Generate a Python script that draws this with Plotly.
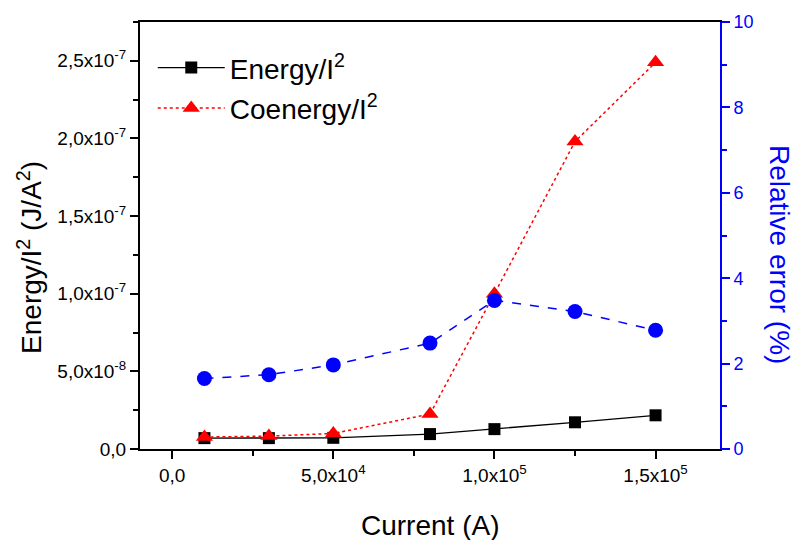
import plotly.graph_objects as go

current = [1e4, 3e4, 5e4, 8e4, 1e5, 1.25e5, 1.5e5]
energy = [7.0e-9, 7.0e-9, 7.2e-9, 9.6e-9, 1.28e-8, 1.72e-8, 2.17e-8]
coenergy = [7.7e-9, 8.3e-9, 1.0e-8, 2.25e-8, 1.0e-7, 1.98e-7, 2.49e-7]
rel_error = [1.65, 1.74, 1.97, 2.48, 3.48, 3.22, 2.78]

x_tickvals = [0, 5e4, 1e5, 1.5e5]
x_ticktext = ["0,0", "5,0x10<sup>4</sup>", "1,0x10<sup>5</sup>", "1,5x10<sup>5</sup>"]
y_tickvals = [0, 5e-8, 1e-7, 1.5e-7, 2e-7, 2.5e-7]
y_ticktext = ["0,0", "5,0x10<sup>-8</sup>", "1,0x10<sup>-7</sup>", "1,5x10<sup>-7</sup>",
              "2,0x10<sup>-7</sup>", "2,5x10<sup>-7</sup>"]
y2_tickvals = [0, 2, 4, 6, 8, 10]

FONT = "Liberation Sans, Arial, sans-serif"

fig = go.Figure()
fig.add_trace(go.Scatter(
    x=current, y=energy, name="Energy/I<sup>2</sup>", mode="lines+markers",
    line=dict(color="black", width=1.3),
    marker=dict(symbol="square", size=12, color="black"),
    legendgroup="a"))
fig.add_trace(go.Scatter(
    x=current, y=coenergy, name="Coenergy/I<sup>2</sup>", mode="lines+markers",
    line=dict(color="red", width=1.5, dash="dot"),
    marker=dict(symbol="triangle-up", size=15, color="red"),
    legendgroup="b"))
fig.add_trace(go.Scatter(
    x=current, y=rel_error, name="Relative error", mode="lines+markers",
    line=dict(color="blue", width=1.5, dash="dash"),
    marker=dict(symbol="circle", size=15, color="blue"),
    yaxis="y2", showlegend=False))

fig.update_layout(
    width=799, height=540,
    margin=dict(l=140, r=79, t=17, b=91),
    plot_bgcolor="white", paper_bgcolor="white",
    font=dict(family=FONT, size=19, color="black"),
    showlegend=True,
    legend=dict(x=0.022, y=0.951, xanchor="left", yanchor="top",
                bgcolor="rgba(0,0,0,0)", font=dict(size=28, family=FONT),
                itemwidth=67, tracegroupgap=1, traceorder="grouped"),
    xaxis=dict(range=[-1e4, 1.7e5], tickvals=x_tickvals, ticktext=x_ticktext,
               ticks="outside", ticklen=8, tickwidth=1.5, tickcolor="black",
               minor=dict(dtick=2.5e4, tick0=0, ticks="outside", ticklen=5, tickcolor="black", tickwidth=1.5),
               showline=True, linecolor="black", linewidth=2, mirror=True,
               showgrid=False, zeroline=False, tickfont=dict(size=19, family=FONT)),
    yaxis=dict(range=[0, 2.75e-7], tickvals=y_tickvals, ticktext=y_ticktext,
               ticks="outside", ticklen=8, tickwidth=1.5, tickcolor="black",
               minor=dict(dtick=2.5e-8, tick0=0, ticks="outside", ticklen=5, tickcolor="black", tickwidth=1.5),
               showline=True, linecolor="black", linewidth=2,
               showgrid=False, zeroline=False, tickfont=dict(size=19, family=FONT)),
    yaxis2=dict(range=[0, 10], tickvals=y2_tickvals, overlaying="y", side="right",
                ticks="outside", ticklen=8, tickwidth=1.5, tickcolor="blue",
                minor=dict(dtick=1, tick0=0, ticks="outside", ticklen=5, tickcolor="blue", tickwidth=1.5),
                showline=True, linecolor="blue", linewidth=2,
                showgrid=False, zeroline=False,
                tickfont=dict(size=18, family=FONT, color="blue")),
    annotations=[
        dict(text="Energy/I<sup>2</sup> (J/A<sup>2</sup>)", xref="paper", yref="paper",
             x=-0.191, y=0.448, xanchor="center", yanchor="middle",
             textangle=-90, showarrow=False,
             font=dict(size=28, family=FONT, color="black")),
        dict(text="Current (A)", xref="paper", yref="paper",
             x=0.5, y=-0.179, xanchor="center", yanchor="middle", showarrow=False,
             font=dict(size=28, family=FONT, color="black")),
        dict(text="Relative error (%)", xref="paper", yref="paper",
             x=1.103, y=0.455, xanchor="center", yanchor="middle",
             textangle=90, showarrow=False,
             font=dict(size=28, family=FONT, color="blue")),
    ],
)

fig.write_html("out.html")
